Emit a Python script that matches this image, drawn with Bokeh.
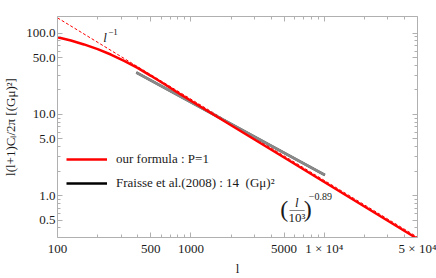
import math
from bokeh.plotting import figure
from bokeh.models import Range1d, LogAxis, FixedTicker, Legend, LegendItem, Label
from bokeh.embed import file_html
from bokeh.resources import INLINE

# ---- data ----
formula_l = [100, 126, 158, 200, 251, 316, 398, 501, 631, 794, 1000, 2000, 5000, 10000, 20000, 50000]
formula_v = [89, 81, 72.5, 63.5, 54.5, 45.5, 37.3, 29.8, 23.6, 18.6, 14.7, 7.35, 2.94, 1.47, 0.735, 0.294]
fraisse_l = [390, 10100]
fraisse_v = [32.7, 1.79]
slope_l = [100, 50000]
slope_v = [154, 0.308]

x_ticks = [100, 500, 1000, 5000, 10000, 50000]
x_tick_labels = ["100", "500", "1000", "5000", "1 × 10⁴", "5 × 10⁴"]
x_minor = [200, 300, 400, 600, 700, 800, 900, 2000, 3000, 4000, 6000, 7000, 8000, 9000,
           20000, 30000, 40000]
y_ticks = [0.5, 1, 5, 10, 50, 100]
y_tick_labels = ["0.5", "1.0", "5.0", "10.0", "50.0", "100.0"]
y_minor = [0.4, 0.6, 0.7, 0.8, 0.9, 2, 3, 4, 6, 7, 8, 9, 20, 30, 40, 60, 70, 80, 90]

X_RANGE = (100, 50000)
Y_RANGE = (0.305, 160)

SERIF = "Liberation Serif"
AXIS_COLOR = "#b0b0b0"
TEXT_COLOR = "#1a1a1a"

p = figure(width=436, height=278, x_axis_type="log", y_axis_type="log",
           x_range=Range1d(*X_RANGE), y_range=Range1d(*Y_RANGE),
           output_backend="svg", toolbar_location=None,
           min_border_left=49, min_border_right=19, min_border_top=16, min_border_bottom=35)
p.outline_line_color = None
p.xgrid.visible = False
p.ygrid.visible = False

# helpers: reference page pixels (frame L=49.3, R=417.3, T=16, B=243.3) -> data coords
FL, FR, FT, FB = 49.3, 417.3, 16.0, 243.3
def lx(px):
    a, b = math.log10(X_RANGE[0]), math.log10(X_RANGE[1])
    return 10 ** (a + (px - FL) / (FR - FL) * (b - a))
def vy(py):
    a, b = math.log10(Y_RANGE[0]), math.log10(Y_RANGE[1])
    return 10 ** (b - (py - FT) / (FB - FT) * (b - a))

xt = FixedTicker(ticks=x_ticks, minor_ticks=x_minor)
yt = FixedTicker(ticks=y_ticks, minor_ticks=y_minor)

def style_axis(ax, show_labels):
    ax.axis_line_color = AXIS_COLOR
    ax.major_tick_line_color = AXIS_COLOR
    ax.minor_tick_line_color = AXIS_COLOR
    ax.major_tick_in = 5
    ax.major_tick_out = 0
    ax.minor_tick_in = 3
    ax.minor_tick_out = 0
    ax.major_label_text_font = SERIF
    ax.major_label_text_color = TEXT_COLOR
    ax.axis_label_text_font = SERIF
    ax.axis_label_text_font_style = "normal"
    ax.axis_label_text_font_size = "13px"
    ax.axis_label_text_color = TEXT_COLOR
    if show_labels:
        ax.major_label_text_font_size = "13px"
    else:
        ax.major_label_text_font_size = "0px"
        ax.major_label_text_color = None
        ax.major_label_standoff = 0

xa = p.xaxis[0]
ya = p.yaxis[0]
xa.ticker = xt
ya.ticker = yt
xa.major_label_overrides = {t: s for t, s in zip(x_ticks, x_tick_labels)}
ya.major_label_overrides = {t: s for t, s in zip(y_ticks, y_tick_labels)}
style_axis(xa, True)
style_axis(ya, True)
xa.major_label_standoff = 3
ya.major_label_standoff = 2
xa.axis_label = "l"
ya.axis_label = "l(l+1)Cₗ/2π [(Gμ)²]"
xa.axis_label_standoff = 2
ya.axis_label_standoff = 5

top = LogAxis(ticker=xt)
right = LogAxis(ticker=yt)
style_axis(top, False)
style_axis(right, False)
p.add_layout(top, "above")
p.add_layout(right, "right")

# lines
p.line(slope_l, slope_v, line_color="red", line_width=1, line_dash="3 2")
black = p.line(fraisse_l, fraisse_v, line_color="black", line_width=2.3)
p.line(fraisse_l, fraisse_v, line_color="#888888", line_width=2.7)
red = p.line(formula_l, formula_v, line_color="red", line_width=2.5)

legend = Legend(items=[LegendItem(label="our formula : P=1", renderers=[red]),
                       LegendItem(label="Fraisse et al.(2008) : 14\u2002(Gμ)²", renderers=[black])],
                location=(9, 42), glyph_width=41, glyph_height=24, label_height=24,
                label_standoff=9, spacing=0, padding=0, margin=0,
                border_line_color=None, background_fill_alpha=0,
                label_text_font=SERIF, label_text_font_size="13px", label_text_color=TEXT_COLOR)
p.add_layout(legend)

def lab(text, px, py, size="13px", style="normal"):
    p.add_layout(Label(x=lx(px), y=vy(py), text=text, text_font=SERIF, text_font_size=size,
                       text_font_style=style, text_align="center", text_baseline="middle",
                       text_color=TEXT_COLOR))

lab("l", 98, 38, style="italic")
lab("−1", 106, 32, size="9px")
lab("(", 281, 214, size="24px")
lab("l", 294, 207, style="italic")
lab("—", 294, 214, size="15px")
lab("10³", 294, 223)
lab(")", 305, 214, size="24px")
lab("−0.89", 318, 201, size="10px")

open("out.html", "w").write(file_html(p, INLINE))
